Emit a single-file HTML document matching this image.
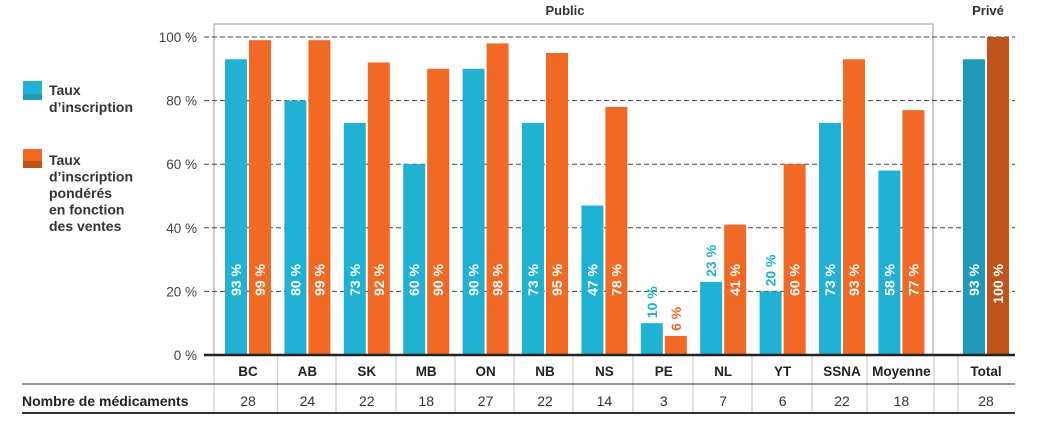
<!DOCTYPE html>
<html><head><meta charset="utf-8"><style>
body{margin:0;background:#fff;font-family:"Liberation Sans",sans-serif}
svg text{font-family:"Liberation Sans",sans-serif}
</style></head><body>
<svg id="c" width="1045" height="427" xmlns="http://www.w3.org/2000/svg">
<g>
 <rect x="23" y="81" width="19" height="19" fill="#21b1d3"/>
 <rect x="23" y="94" width="19" height="6" fill="#1e99b8"/>
 <text x="49" y="95" font-size="14" font-weight="bold" fill="#333"><tspan x="49">Taux</tspan><tspan x="49" dy="17">d’inscription</tspan></text>
 <rect x="23" y="149" width="19" height="19" fill="#f06a25"/>
 <rect x="23" y="161" width="19" height="7" fill="#c0531a"/>
 <text x="49" y="165" font-size="14" font-weight="bold" fill="#333"><tspan x="49">Taux</tspan><tspan x="49" dy="16.5">d’inscription</tspan><tspan x="49" dy="16.5">pondérés</tspan><tspan x="49" dy="16.5">en fonction</tspan><tspan x="49" dy="16.5">des ventes</tspan></text>
</g>
<rect x="214" y="24" width="719" height="331" fill="none" stroke="#bbb" stroke-width="1.5"/>
<text x="565" y="15" font-size="13" font-weight="bold" fill="#333" text-anchor="middle">Public</text>
<text x="988" y="15" font-size="13" font-weight="bold" fill="#333" text-anchor="middle">Privé</text>
<g id="grid"></g><g id="bars"></g><g id="tbl"></g>
</svg>
<script>
const categories=["BC","AB","SK","MB","ON","NB","NS","PE","NL","YT","SSNA","Moyenne","Total"];
const enrollment=[93,80,73,60,90,73,47,10,23,20,73,58,93];
const weighted=[99,99,92,90,98,95,78,6,41,60,93,77,100];
const drugCounts=[28,24,22,18,27,22,14,3,7,6,22,18,28];
const yTicks=[0,20,40,60,80,100];
const NS="http://www.w3.org/2000/svg";
function y(v){return 355-v*3.18;}
function gx(i){return i<12?225+59.4*i:963;}
function mk(t,a,p){const e=document.createElementNS(NS,t);for(const k in a)e.setAttribute(k,a[k]);p.appendChild(e);return e;}
const grid=document.getElementById('grid'),bars=document.getElementById('bars'),tbl=document.getElementById('tbl');
yTicks.forEach(t=>{
 if(t>0){const l=mk('line',{x1:204,x2:1015,y1:y(t),y2:y(t),stroke:'#444','stroke-dasharray':'5,3','stroke-width':1},grid);
 
 }
 const tx=mk('text',{x:197,y:y(t)+5,'font-size':13.5,fill:'#444','text-anchor':'end'},grid);tx.textContent=t+' %';
 
 
});
function bar(i,v,x,col,lblCol,s){
 const r=mk('rect',{x:x,y:y(v),width:22,height:355-y(v),fill:col},bars);
 
 
 const cx=x+11+5;const lbl=v+' %';
 let t;
 if(y(v)<262){t=mk('text',{x:cx,y:264,transform:`rotate(-90 ${cx} 264)`,'text-anchor':'end','font-size':14,'font-weight':'bold',fill:'#fff'},bars);}
 else{const yy=y(v)-5;t=mk('text',{x:cx,y:yy,transform:`rotate(-90 ${cx} ${yy})`,'text-anchor':'start','font-size':14,'font-weight':'bold',fill:lblCol},bars);}
 t.textContent=lbl;
 
 
}
categories.forEach((c,i)=>{
 const x=gx(i),last=i==12;
 bar(i,enrollment[i],x,last?'#1e99b8':'#21b1d3','#21b1d3','enrollment');
 bar(i,weighted[i],x+24,last?'#c0531a':'#f06a25','#f06a25','weighted');
 const cx=x+23;
 const a=mk('text',{x:cx,y:376,'font-size':13.5,'font-weight':'bold',fill:'#222','text-anchor':'middle'},tbl);a.textContent=c;
 
 
 const b=mk('text',{x:cx,y:406,'font-size':14,fill:'#333','text-anchor':'middle'},tbl);b.textContent=drugCounts[i];
 
 
});
[214,277.5,336,396,455,514,573,633,693,752,812,867,934,958].forEach(d=>mk('line',{x1:d,x2:d,y1:355,y2:413,stroke:'#ccc','stroke-width':1.2},tbl));
mk('line',{x1:22,x2:1015,y1:384,y2:384,stroke:'#555','stroke-width':1.2},tbl);
mk('line',{x1:22,x2:1015,y1:413,y2:413,stroke:'#333','stroke-width':2},tbl);
mk('line',{x1:204,x2:1015,y1:355,y2:355,stroke:'#222','stroke-width':2.5},tbl);
const h=mk('text',{x:22,y:406,'font-size':14,'font-weight':'bold',fill:'#222'},tbl);h.textContent='Nombre de médicaments';


</script>
</body></html>
